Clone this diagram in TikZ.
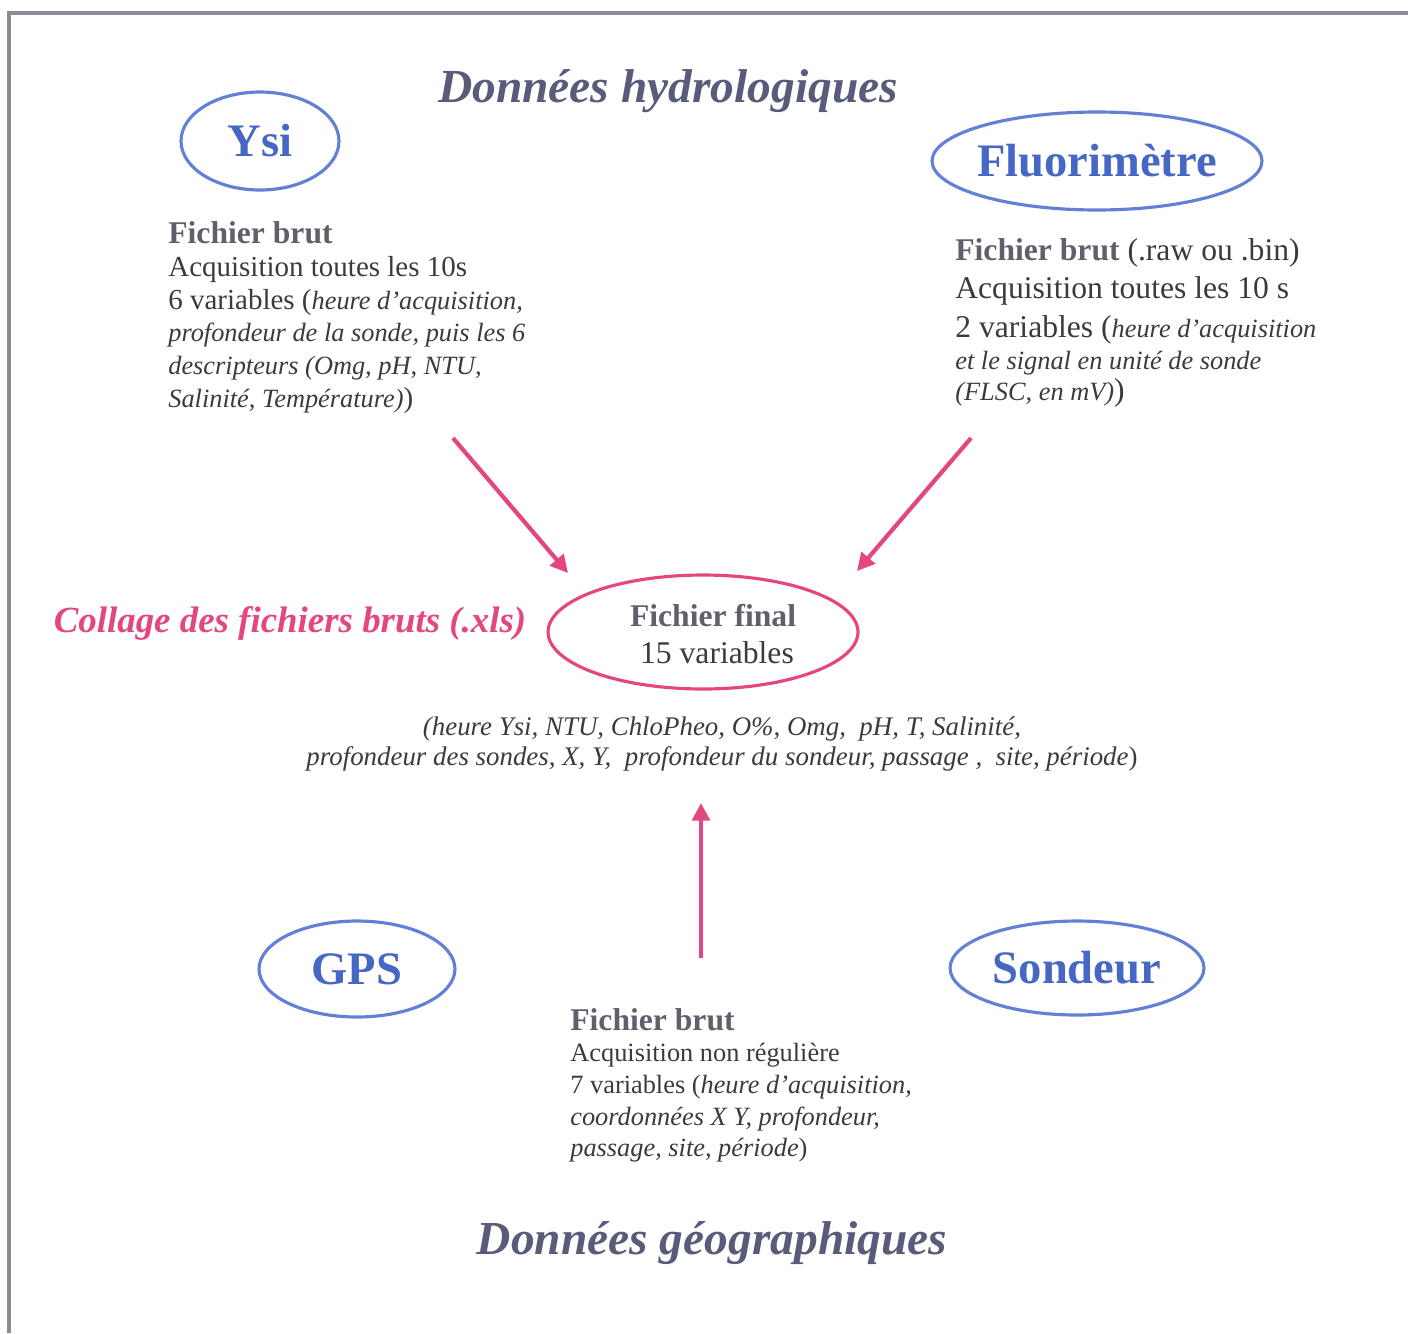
\documentclass[tikz,border=0pt]{standalone}
\usepackage{fontspec}
\setmainfont{Liberation Serif}
\usepackage{xcolor}
\usetikzlibrary{arrows.meta,positioning}
\definecolor{titlegray}{RGB}{88,92,122}
\definecolor{instblue}{RGB}{70,104,196}
\definecolor{ringblue}{RGB}{98,128,214}
\definecolor{rose}{RGB}{228,70,128}
\definecolor{textgray}{RGB}{58,58,64}
\definecolor{headgray}{RGB}{96,96,108}
\definecolor{framegray}{RGB}{140,140,152}
\newcommand{\fichierhd}[1]{{\fontsize{18}{19}\selectfont\bfseries\color{headgray}#1}}
\newcommand{\varit}[1]{{\fontsize{15}{19}\selectfont\itshape #1}}

\begin{document}
\begin{tikzpicture}[x=0.02cm,y=-0.02cm,
  title/.style={font=\fontsize{27}{32}\selectfont\bfseries\itshape, text=titlegray, inner sep=0},
  instr/.style={font=\fontsize{26.5}{30}\selectfont\bfseries, text=instblue, inner sep=0},
  ring/.style={draw=ringblue, line width=1.8pt},
  note/.style={align=left, inner sep=0, text=textgray},
  flow/.style={draw=rose, line width=2.4pt, -{Triangle[length=10pt,width=10pt]}}]

\useasboundingbox (0,0) rectangle (1408,1333);
\draw[framegray, line width=1.9pt] (9,1333) -- (9,13) -- (1408,13);

% titles
\node[title, anchor=base] (hydro) at (668,102) {Données hydrologiques};
\node[title, anchor=base] (geo) at (712,1254) {Données géographiques};

% instruments
\node[instr] (ysi) at (260,141) {Ysi};
\draw[ring] (ysi.center) ellipse [x radius=1.58cm, y radius=0.98cm];

\node[instr] (fluo) at (1097,161) {Fluorimètre};
\draw[ring] (fluo.center) ellipse [x radius=3.3cm, y radius=0.98cm];

\node[instr] (gps) at (357,969) {GPS};
\draw[ring] (gps.center) ellipse [x radius=1.96cm, y radius=0.96cm];

\node[instr] (sondeur) at (1077,968) {Sondeur};
\draw[ring] (sondeur.center) ellipse [x radius=2.54cm, y radius=0.94cm];

% raw files
\node[note, anchor=north west, font=\fontsize{16.5}{18.7}\selectfont] (ysitxt) at (168,221)
  {\fichierhd{Fichier brut}\\
   Acquisition toutes les 10s\\
   6 variables (\varit{heure d'acquisition,}\\
   \varit{profondeur de la sonde, puis les 6}\\
   \varit{descripteurs (Omg, pH, NTU,}\\
   \varit{Salinité, Température)})};

\node[note, anchor=north west, font=\fontsize{18}{22}\selectfont] (fluotxt) at (955,238)
  {\fichierhd{Fichier brut} (.raw ou .bin)\\
   Acquisition toutes les 10 s\\
   2 variables (\varit{heure d'acquisition}\\[-4pt]
   \varit{et le signal en unité de sonde}\\[-4pt]
   \varit{(FLSC, en mV)})};

\node[note, anchor=north west, font=\fontsize{15}{18}\selectfont] (geotxt) at (570,1008)
  {\fichierhd{Fichier brut}\\
   Acquisition non régulière\\
   7 variables (\varit{heure d'acquisition,}\\
   \varit{coordonnées X Y, profondeur,}\\
   \varit{passage, site, période})};

% final file
\node[align=center, inner sep=0, text=textgray, font=\fontsize{18}{21}\selectfont] (final) at (713,634)
  {\fichierhd{Fichier final}\\ \ 15 variables};
\draw[draw=rose, line width=1.8pt] ([xshift=-0.2cm,yshift=0.04cm]final.center) ellipse [x radius=3.1cm, y radius=1.14cm];

\node[title, text=rose, font=\fontsize{21}{25}\selectfont\bfseries\itshape, anchor=base] (collage) at (290,632)
  {Collage des fichiers bruts (.xls)};

\node[align=center, inner sep=0, text=textgray, font=\fontsize{15.3}{17.6}\selectfont\itshape, anchor=north] (vars) at (722,716)
  {(heure Ysi, NTU, ChloPheo, O\%, Omg,\ \ pH, T, Salinité,\\
   profondeur des sondes, X, Y,\ \ profondeur du sondeur, passage ,\ \ site, période\upshape)};

% arrows
\coordinate (a1) at (453,438);
\coordinate (b1) at (568,573);
\coordinate (a2) at (971,438);
\coordinate (b2) at (857,571);
\coordinate (a3) at (701,958);
\coordinate (b3) at (701,803);
\draw[flow] (a1) -- (b1);
\draw[flow] (a2) -- (b2);
\draw[flow] (a3) -- (b3);

\end{tikzpicture}
\end{document}
